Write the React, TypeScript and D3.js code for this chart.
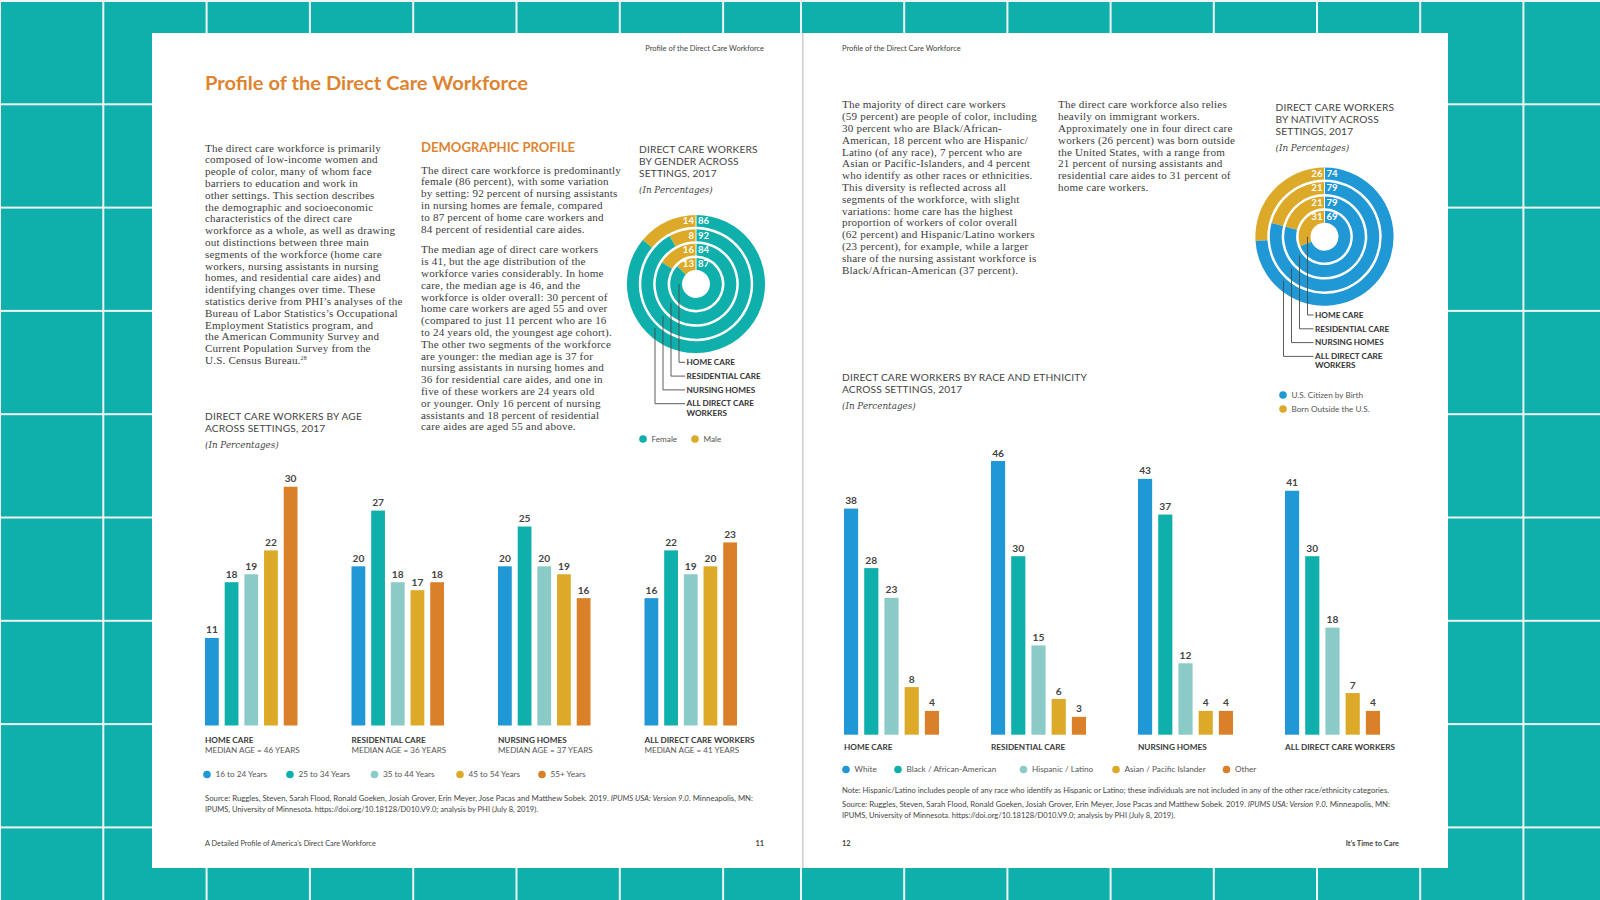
import * as d3 from 'd3'

const settings = ['HOME CARE', 'RESIDENTIAL CARE', 'NURSING HOMES', 'ALL DIRECT CARE WORKERS']
const medianAges = [46, 36, 37, 41]

const ageGroups = ['16 to 24 Years', '25 to 34 Years', '35 to 44 Years', '45 to 54 Years', '55+ Years']
const ageValues = [
  [11, 18, 19, 22, 30],
  [20, 27, 18, 17, 18],
  [20, 25, 20, 19, 16],
  [16, 22, 19, 20, 23],
]

const raceGroups = ['White', 'Black / African-American', 'Hispanic / Latino', 'Asian / Pacific Islander', 'Other']
const raceValues = [
  [38, 28, 23, 8, 4],
  [46, 30, 15, 6, 3],
  [43, 37, 12, 4, 4],
  [41, 30, 18, 7, 4],
]

// rings go inner -> outer
const ringLabels = [['HOME CARE'], ['RESIDENTIAL CARE'], ['NURSING HOMES'], ['ALL DIRECT CARE', 'WORKERS']]
const genderMale = [13, 16, 8, 14]
const genderFemale = [87, 84, 92, 86]
const nativityForeign = [31, 21, 21, 26]
const nativityUS = [69, 79, 79, 74]

const leftIntro = [
  'The direct care workforce is primarily',
  'composed of low-income women and',
  'people of color, many of whom face',
  'barriers to education and work in',
  'other settings. This section describes',
  'the demographic and socioeconomic',
  'characteristics of the direct care',
  'workforce as a whole, as well as drawing',
  'out distinctions between three main',
  'segments of the workforce (home care',
  'workers, nursing assistants in nursing',
  'homes, and residential care aides) and',
  'identifying changes over time. These',
  'statistics derive from PHI\u2019s analyses of the',
  'Bureau of Labor Statistics\u2019s Occupational',
  'Employment Statistics program, and',
  'the American Community Survey and',
  'Current Population Survey from the',
]
const demoPara1 = [
  'The direct care workforce is predominantly',
  'female (86 percent), with some variation',
  'by setting: 92 percent of nursing assistants',
  'in nursing homes are female, compared',
  'to 87 percent of home care workers and',
  '84 percent of residential care aides.',
]
const demoPara2 = [
  'The median age of direct care workers',
  'is 41, but the age distribution of the',
  'workforce varies considerably. In home',
  'care, the median age is 46, and the',
  'workforce is older overall: 30 percent of',
  'home care workers are aged 55 and over',
  '(compared to just 11 percent who are 16',
  'to 24 years old, the youngest age cohort).',
  'The other two segments of the workforce',
  'are younger: the median age is 37 for',
  'nursing assistants in nursing homes and',
  '36 for residential care aides, and one in',
  'five of these workers are 24 years old',
  'or younger. Only 16 percent of nursing',
  'assistants and 18 percent of residential',
  'care aides are aged 55 and above.',
]
const racePara = [
  'The majority of direct care workers',
  '(59 percent) are people of color, including',
  '30 percent who are Black/African-',
  'American, 18 percent who are Hispanic/',
  'Latino (of any race), 7 percent who are',
  'Asian or Pacific-Islanders, and 4 percent',
  'who identify as other races or ethnicities.',
  'This diversity is reflected across all',
  'segments of the workforce, with slight',
  'variations: home care has the highest',
  'proportion of workers of color overall',
  '(62 percent) and Hispanic/Latino workers',
  '(23 percent), for example, while a larger',
  'share of the nursing assistant workforce is',
  'Black/African-American (37 percent).',
]
const nativityPara = [
  'The direct care workforce also relies',
  'heavily on immigrant workers.',
  'Approximately one in four direct care',
  'workers (26 percent) was born outside',
  'the United States, with a range from',
  '21 percent of nursing assistants and',
  'residential care aides to 31 percent of',
  'home care workers.',
]

const W = 1600
const H = 900
const TEAL = '#0FB0AB'
const PALETTE = ['#2198D6', '#0FB0AB', '#8ACBC7', '#DCAA28', '#D98029']
const GOLD = '#DCAA28'
const BLUE = '#2198D6'
const ORANGE = '#DE8430'
const SANS = 'Lato, "Noto Sans", sans-serif'
const SERIF = '"Liberation Serif", "DejaVu Serif", serif'
const ITALIC = '"DejaVu Serif", serif'
const INK = '#3c3c3c'
const GREY = '#555'

const Para = ({ x, y, lines, size = 11.1, lh = 11.8 }: any) => (
  <text x={x} y={y} fontFamily={SERIF} fontSize={size} fill={INK} letterSpacing={0.18}>
    {lines.map((l: any, i: number) => (
      <tspan key={i} x={x} y={y + i * lh}>{l}</tspan>
    ))}
  </text>
)

const ChartTitle = ({ x, y, lines }: any) => (
  <g>
    <text fontFamily={SANS} fontSize={10.2} fill="#444" letterSpacing={0.15}>
      {lines.map((l: string, i: number) => (
        <tspan key={i} x={x} y={y + i * 12.3}>{l}</tspan>
      ))}
    </text>
    <text x={x} y={y + lines.length * 12.3 + 3.5} fontFamily={ITALIC} fontStyle="italic" fontSize={8.8} fill="#444">
      (In Percentages)
    </text>
  </g>
)

function Background() {
  const cell = 103.3
  const xs = [...d3.range(0, 8).map(k => k * cell), ...d3.range(0, 8).map(k => 801 + k * 103.2)]
  const ys = d3.range(0, 9).map(k => k * cell)
  return (
    <g>
      <rect width={W} height={H} fill={TEAL} />
      {xs.map((x, i) => <rect key={'v' + i} x={x - 1} y={0} width={2} height={H} fill="#eef5f5" />)}
      {ys.map((y, i) => <rect key={'h' + i} x={0} y={y} width={W} height={2} fill="#eef5f5" />)}
      <rect x={152} y={33} width={649} height={835} fill="#fff" />
      <rect x={801} y={33} width={647} height={835} fill="#fff" />
      <rect x={802} y={33} width={1.6} height={835} fill="#d0d0d0" />
    </g>
  )
}

function GroupedBars({ values, x0, x1, groupW, y, labelY, sub }: any) {
  const n = values.length
  // step so that the last group ends at x1
  const step = (x1 - x0 - groupW) / (n - 1)
  const gx = d3.scaleBand<number>().domain(d3.range(n)).range([x0, x1]).paddingInner(1 - groupW / step).paddingOuter(0)
  const bx = d3.scaleBand<number>().domain(d3.range(values[0].length)).range([0, gx.bandwidth()]).paddingInner(0.3)
  return (
    <g>
      {values.map((row: number[], gi: number) => (
        <g key={gi} transform={`translate(${gx(gi)},0)`}>
          {row.map((v, bi) => (
            <g key={bi}>
              <rect x={bx(bi)} y={y(v)} width={bx.bandwidth()} height={y(0) - y(v)} fill={PALETTE[bi]} />
              <text x={(bx(bi) as number) + bx.bandwidth() / 2} y={y(v) - 4.5} textAnchor="middle"
                fontFamily={SANS} fontWeight="bold" fontSize={10.2} fill="#444">{v}</text>
            </g>
          ))}
          <text x={0} y={labelY} fontFamily={SANS} fontWeight="bold" fontSize={8.2} fill="#3a3a3a">{settings[gi]}</text>
          {sub && (
            <text x={0} y={labelY + 10} fontFamily={SANS} fontSize={8.1} fill={GREY}>{sub(gi)}</text>
          )}
        </g>
      ))}
    </g>
  )
}

function Legend({ items, xs, y, colors }: any) {
  return (
    <g fontFamily={SANS} fontSize={8.2} fill={GREY}>
      {items.map((t: string, i: number) => (
        <g key={i}>
          <circle cx={xs[i]} cy={y} r={3.8} fill={colors[i]} />
          <text x={xs[i] + 8.5} y={y + 2.9}>{t}</text>
        </g>
      ))}
    </g>
  )
}

function Rings({ cx, cy, a, b, colorA, colorB }: any) {
  const hole = 14
  const w = 11.9
  const gap = 2.5
  const arc = d3.arc<any>()
  const tau = Math.PI * 2
  return (
    <g>
      {a.map((va: number, i: number) => {
        const r0 = hole + i * (w + gap)
        const r1 = r0 + w
        const mid = (r0 + r1) / 2
        return (
          <g key={i}>
            <path transform={`translate(${cx},${cy})`}
              d={arc({ innerRadius: r0, outerRadius: r1, startAngle: -va / 100 * tau, endAngle: 0 }) as string}
              fill={colorA} />
            <path transform={`translate(${cx},${cy})`}
              d={arc({ innerRadius: r0, outerRadius: r1, startAngle: 0, endAngle: b[i] / 100 * tau }) as string}
              fill={colorB} />
            <text x={cx - 2} y={cy - mid + 3.4} textAnchor="end" fontFamily={SANS} fontWeight="bold" fontSize={9.6} fill="#fff">{va}</text>
            <text x={cx + 2} y={cy - mid + 3.4} fontFamily={SANS} fontWeight="bold" fontSize={9.6} fill="#fff">{b[i]}</text>
          </g>
        )
      })}
      <line x1={cx} x2={cx} y1={cy - hole} y2={cy - hole - 4 * w - 3 * gap} stroke="#fff" strokeWidth={1} />
      {ringLabels.map((lines, i) => {
        const dx = 17 + 8 * i
        const rIn = hole + i * (w + gap) + 3
        const yStart = cy + Math.sqrt(Math.max(0, rIn * rIn - dx * dx))
        const ly = cy + 81 + 13.8 * i
        const lx = cx - 9.5
        return (
          <g key={i}>
            <path d={`M${cx - dx},${yStart}V${ly - 2.7}H${lx - 1.5}`} fill="none" stroke="#4a4a4a" strokeWidth={0.9} />
            <text fontFamily={SANS} fontWeight="bold" fontSize={8.2} fill="#333">
              {lines.map((l, j) => <tspan key={j} x={lx} y={ly + j * 9.2}>{l}</tspan>)}
            </text>
          </g>
        )
      })}
    </g>
  )
}

const Source = ({ x, y }: any) => (
  <text fontFamily={SANS} fontSize={7.4} fill="#444">
    <tspan x={x} y={y} textLength={548} lengthAdjust="spacingAndGlyphs">
      Source: Ruggles, Steven, Sarah Flood, Ronald Goeken, Josiah Grover, Erin Meyer, Jose Pacas and Matthew Sobek. 2019. <tspan fontStyle="italic">IPUMS USA: Version 9.0.</tspan> Minneapolis, MN:
    </tspan>
    <tspan x={x} y={y + 11} textLength={333} lengthAdjust="spacingAndGlyphs">IPUMS, University of Minnesota. https://doi.org/10.18128/D010.V9.0; analysis by PHI (July 8, 2019).</tspan>
  </text>
)

export default function App() {
  const yAge = d3.scaleLinear().domain([0, 30]).range([725.5, 486.7])
  const yRace = d3.scaleLinear().domain([0, 46]).range([734.7, 461])

  return (
    <svg width={W} height={H} style={{ position: 'absolute', left: 0, top: 0, display: 'block' }}>
      <Background />

      {/* ---------- page 11 ---------- */}
      <text x={764} y={50.5} textAnchor="end" fontFamily={SANS} fontSize={7.5} fill="#444">Profile of the Direct Care Workforce</text>
      <text x={205} y={90} fontFamily={SANS} fontWeight="bold" fontSize={18} fill={ORANGE} textLength={323} lengthAdjust="spacingAndGlyphs">
        Profile of the Direct Care Workforce
      </text>

      <Para x={205} y={151.5} lines={[...leftIntro, <>U.S. Census Bureau.<tspan fontSize={6} dy={-4}>28</tspan></>]} />

      <text x={421} y={152} fontFamily={SANS} fontWeight="bold" fontSize={12.6} fill={ORANGE} textLength={154} lengthAdjust="spacingAndGlyphs">DEMOGRAPHIC PROFILE</text>
      <Para x={421} y={173.6} lines={demoPara1} />
      <Para x={421} y={253.3} lines={demoPara2} />

      <ChartTitle x={639} y={152.5} lines={['DIRECT CARE WORKERS', 'BY GENDER ACROSS', 'SETTINGS, 2017']} />
      <Rings cx={696} cy={284} a={genderMale} b={genderFemale} colorA={GOLD} colorB={TEAL} />
      <Legend items={['Female', 'Male']} xs={[643, 695]} y={439} colors={[TEAL, GOLD]} />

      <ChartTitle x={205} y={419.5} lines={['DIRECT CARE WORKERS BY AGE', 'ACROSS SETTINGS, 2017']} />
      <GroupedBars values={ageValues} x0={205} x1={737} groupW={92.5} y={yAge} labelY={742.5}
        sub={(i: number) => `MEDIAN AGE = ${medianAges[i]} YEARS`} />
      <Legend items={ageGroups} xs={[207, 290, 374.5, 460, 542]} y={774.5} colors={PALETTE} />
      <Source x={205} y={800.5} />

      <text x={205} y={845.5} fontFamily={SANS} fontSize={7.3} fill="#444">A Detailed Profile of America{'\u2019'}s Direct Care Workforce</text>
      <text x={764} y={845.5} textAnchor="end" fontFamily={SANS} fontWeight="bold" fontSize={7.4} fill="#444">11</text>

      {/* ---------- page 12 ---------- */}
      <text x={842} y={50.5} fontFamily={SANS} fontSize={7.5} fill="#444">Profile of the Direct Care Workforce</text>
      <Para x={842} y={108.4} lines={racePara} />
      <Para x={1058} y={108.4} lines={nativityPara} />

      <ChartTitle x={1275.5} y={110.5} lines={['DIRECT CARE WORKERS', 'BY NATIVITY ACROSS', 'SETTINGS, 2017']} />
      <Rings cx={1324.5} cy={236.7} a={nativityForeign} b={nativityUS} colorA={GOLD} colorB={BLUE} />
      <Legend items={['U.S. Citizen by Birth']} xs={[1283]} y={395} colors={[BLUE]} />
      <Legend items={['Born Outside the U.S.']} xs={[1283]} y={409} colors={[GOLD]} />

      <ChartTitle x={842} y={381} lines={['DIRECT CARE WORKERS BY RACE AND ETHNICITY', 'ACROSS SETTINGS, 2017']} />
      <GroupedBars values={raceValues} x0={844} x1={1380} groupW={95} y={yRace} labelY={749.5} />
      <Legend items={raceGroups} xs={[846, 898, 1023.5, 1116, 1226.5]} y={769.5} colors={PALETTE} />
      <text x={842} y={792.5} fontFamily={SANS} fontSize={7.4} fill="#444" textLength={547} lengthAdjust="spacingAndGlyphs">
        Note: Hispanic/Latino includes people of any race who identify as Hispanic or Latino; these individuals are not included in any of the other race/ethnicity categories.
      </text>
      <Source x={842} y={806.5} />

      <text x={842} y={845.5} fontFamily={SANS} fontWeight="bold" fontSize={7.4} fill="#444">12</text>
      <text x={1399} y={845.5} textAnchor="end" fontFamily={SANS} fontWeight="bold" fontSize={7.4} fill="#444">It{'\u2019'}s Time to Care</text>
    </svg>
  )
}
